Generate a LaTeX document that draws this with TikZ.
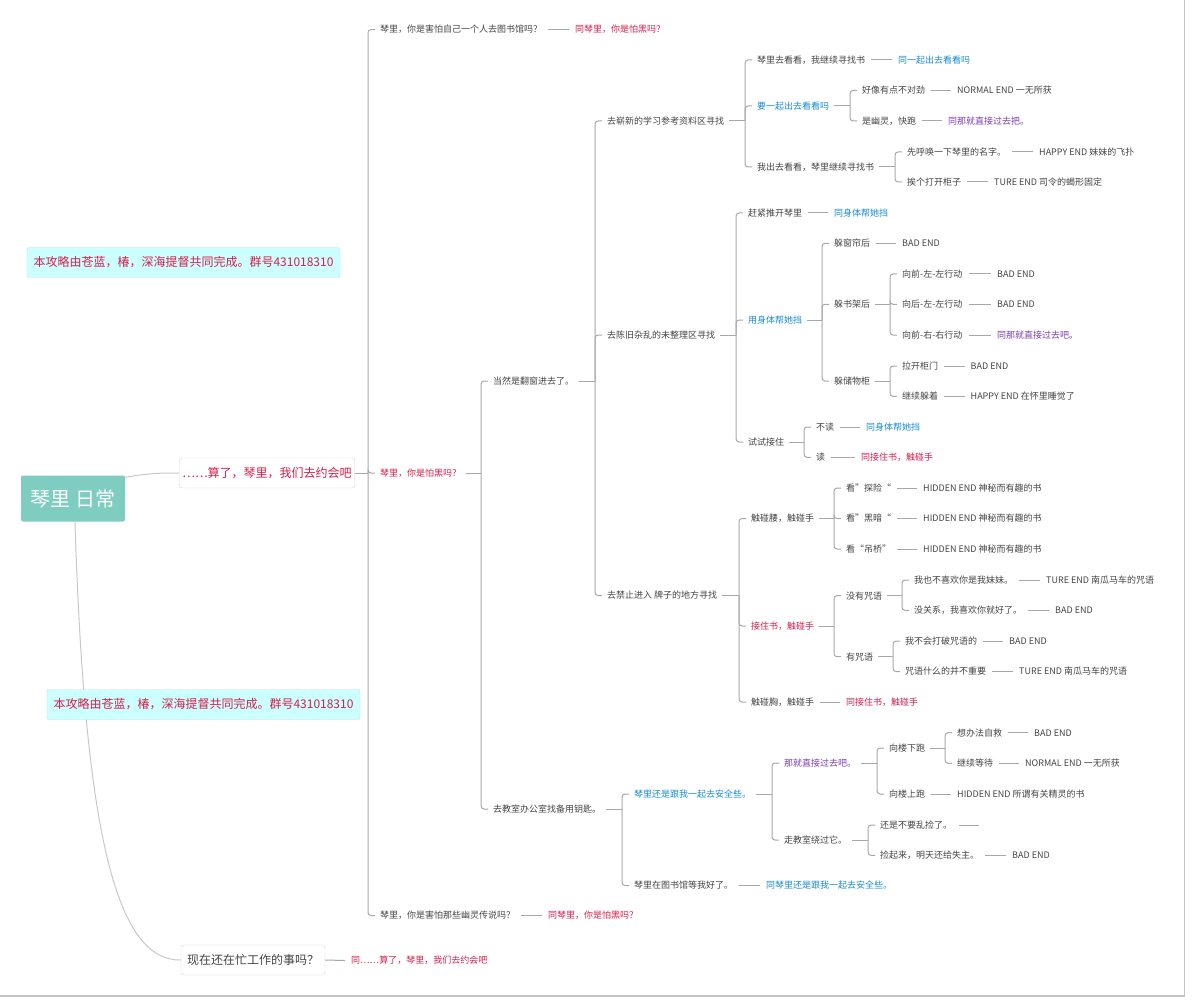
\documentclass[tikz,border=0pt]{standalone}
\usepackage{fontspec}
\setmainfont{Noto Sans CJK SC}
\usepackage{tikz}
\usetikzlibrary{calc}
\definecolor{txtgray}{HTML}{444444}
\definecolor{linkgray}{HTML}{A8A8A8}
\definecolor{curvegray}{HTML}{C8C8C8}
\definecolor{framegray}{HTML}{C4C4C4}
\definecolor{boxgray}{HTML}{D6D6D6}
\definecolor{notegray}{HTML}{C6DEDE}
\definecolor{kred}{HTML}{D81E4A}
\definecolor{kblue}{HTML}{1A8CCF}
\definecolor{kpurple}{HTML}{7A3DB0}
\definecolor{rootteal}{HTML}{7ECDC0}
\definecolor{notecyan}{HTML}{CCFFFF}
\newcommand{\childline}[3][5]{
\draw[link] ($(#2.east)+(#1,0)$) -- ($(#2.east -| #3.west)+(-12,0)$);
\draw[link,rounded corners=3pt] ($(#2.east -| #3.west)+(-12,0)$) |- ($(#3.west)+(-5,0)$);
}
\newcommand{\sameline}[2]{
\draw[link] ($(#1.east)+(6,0)$) -- ($(#2.west)+(-6,0)$);
}
\tikzset{
  txt/.style={anchor=west,inner sep=0pt,text=txtgray,font=\fontsize{9}{11}\selectfont,text height=8pt,text depth=1.2pt},
  redtxt/.style={txt,text=kred},
  bluetxt/.style={txt,text=kblue},
  purptxt/.style={txt,text=kpurple},
  link/.style={draw=linkgray,line width=1pt},
  curve/.style={draw=curvegray,line width=1pt},
  rootbox/.style={fill=rootteal,rounded corners=2pt,text=white,font=\fontsize{20}{24}\selectfont,minimum width=104pt,minimum height=46pt,inner sep=0pt},
  boxnode/.style={draw=boxgray,fill=white,rounded corners=3pt,text=txtgray,font=\fontsize{12}{14}\selectfont,minimum height=30pt,inner xsep=6pt},
  notebox/.style={draw=notegray,fill=notecyan,rounded corners=2pt,text=kred,font=\fontsize{12}{14}\selectfont,minimum width=313pt,minimum height=30pt,inner xsep=6pt}
}
\begin{document}
\begin{tikzpicture}[x=1pt,y=-1pt]
\useasboundingbox (0,0) rectangle (1192,1003);
\draw[framegray,line width=1.5pt] (1184.5,0) -- (1184.5,996) -- (0,996);

% root, first level and notes
\node[rootbox] (root) at (73,498.5) {琴里 日常};
\node[boxnode,text=kred,minimum width=174pt,inner xsep=3pt] (date) at (267,473) {……算了，琴里，我们去约会吧};
\node[boxnode,minimum width=144pt] (work) at (253,960) {现在还在忙工作的事吗？};
\draw[curve] ($(root.north east)+(0,2)$) .. controls (150,473) and (160,473) .. (date.west);
\draw[curve] ($(root.south)+(2,0)$) .. controls (85,850) and (120,961) .. (work.west);
\node[notebox] (note1) at (183.5,262.5) {本攻略由苍蓝，椿，深海提督共同完成。群号431018310};
\node[notebox] (note2) at (203.5,704.5) {本攻略由苍蓝，椿，深海提督共同完成。群号431018310};
\node[redtxt] (works) at (351,960.5) {同……算了，琴里，我们去约会吧};
\draw[link] (work.east) -- ($(works.west)+(-6,0)$);

% date answers
\node[txt] (lib) at (380,29.6) {琴里，你是害怕自己一个人去图书馆吗？};
\node[redtxt] (libs) at (575,29.6) {同琴里，你是怕黑吗？};
\node[redtxt] (dark) at (380,473) {琴里，你是怕黑吗？};
\node[txt] (ghost) at (380,915.5) {琴里，你是害怕那些幽灵传说吗？};
\node[redtxt] (ghosts) at (548,915.5) {同琴里，你是怕黑吗？};
\childline[0]{date}{lib}
\childline[0]{date}{dark}
\childline[0]{date}{ghost}
\sameline{lib}{libs}
\sameline{ghost}{ghosts}

\node[txt] (win) at (493,381) {当然是翻窗进去了。};
\node[txt] (key) at (493,809) {去教室办公室找备用钥匙。};
\childline{dark}{win}
\childline{dark}{key}

\node[txt] (newa) at (607,121) {去崭新的学习参考资料区寻找};
\node[txt] (olda) at (607,335) {去陈旧杂乱的未整理区寻找};
\node[txt] (bana) at (607,595.5) {去禁止进入 牌子的地方寻找};
\childline{win}{newa}
\childline{win}{olda}
\childline{win}{bana}

% new area
\node[txt] (na1) at (757,60) {琴里去看看，我继续寻找书};
\node[bluetxt] (na1s) at (898,60) {同一起出去看看吗};
\node[bluetxt] (na2) at (757,106) {要一起出去看看吗};
\node[txt] (na3) at (757,167) {我出去看看，琴里继续寻找书};
\childline{newa}{na1}
\childline{newa}{na2}
\childline{newa}{na3}
\sameline{na1}{na1s}
\node[txt] (na21) at (862,90.5) {好像有点不对劲};
\node[txt] (na21s) at (957,90.5) {NORMAL END 一无所获};
\node[txt] (na22) at (862,121) {是幽灵，快跑};
\node[purptxt] (na22s) at (948,121) {同那就直接过去把。};
\childline{na2}{na21}
\childline{na2}{na22}
\sameline{na21}{na21s}
\sameline{na22}{na22s}
\node[txt] (na31) at (907,152) {先呼唤一下琴里的名字。};
\node[txt] (na31s) at (1039,152) {HAPPY END 妹妹的飞扑};
\node[txt] (na32) at (907,182) {挨个打开柜子};
\node[txt] (na32s) at (994,182) {TURE END 司令的蝎形固定};
\childline{na3}{na31}
\childline{na3}{na32}
\sameline{na31}{na31s}
\sameline{na32}{na32s}

% old area
\node[txt] (oa1) at (748,213) {赶紧推开琴里};
\node[bluetxt] (oa1s) at (834,213) {同身体帮她挡};
\node[bluetxt] (oa2) at (748,320) {用身体帮她挡};
\node[txt] (oa3) at (748,442) {试试接住};
\childline{olda}{oa1}
\childline{olda}{oa2}
\childline{olda}{oa3}
\sameline{oa1}{oa1s}
\node[txt] (oa21) at (834,243.3) {躲窗帘后};
\node[txt] (oa21s) at (902,243.3) {BAD END};
\node[txt] (oa22) at (834,304.3) {躲书架后};
\node[txt] (oa23) at (834,381) {躲储物柜};
\childline{oa2}{oa21}
\childline{oa2}{oa22}
\childline{oa2}{oa23}
\sameline{oa21}{oa21s}
\node[txt] (oa221) at (902,274) {向前-左-左行动};
\node[txt] (oa221s) at (997,274) {BAD END};
\node[txt] (oa222) at (902,304.3) {向后-左-左行动};
\node[txt] (oa222s) at (997,304.3) {BAD END};
\node[txt] (oa223) at (902,335) {向前-右-右行动};
\node[purptxt] (oa223s) at (997,335) {同那就直接过去吧。};
\childline{oa22}{oa221}
\childline{oa22}{oa222}
\childline{oa22}{oa223}
\sameline{oa221}{oa221s}
\sameline{oa222}{oa222s}
\sameline{oa223}{oa223s}
\node[txt] (oa231) at (902,366) {拉开柜门};
\node[txt] (oa231s) at (970.5,366) {BAD END};
\node[txt] (oa232) at (902,396.3) {继续躲着};
\node[txt] (oa232s) at (970.5,396.3) {HAPPY END 在怀里睡觉了};
\childline{oa23}{oa231}
\childline{oa23}{oa232}
\sameline{oa231}{oa231s}
\sameline{oa232}{oa232s}
\node[txt] (oa31) at (816,427) {不读};
\node[bluetxt] (oa31s) at (866,427) {同身体帮她挡};
\node[txt] (oa32) at (816,457.3) {读};
\node[redtxt] (oa32s) at (861,457.3) {同接住书，触碰手};
\childline{oa3}{oa31}
\childline{oa3}{oa32}
\sameline{oa31}{oa31s}
\sameline{oa32}{oa32s}

% banned area
\node[txt] (ba1) at (751,518.5) {触碰腰，触碰手};
\node[redtxt] (ba2) at (751,626) {接住书，触碰手};
\node[txt] (ba3) at (751,702) {触碰胸，触碰手};
\node[redtxt] (ba3s) at (846,702) {同接住书，触碰手};
\childline{bana}{ba1}
\childline{bana}{ba2}
\childline{bana}{ba3}
\sameline{ba3}{ba3s}
\node[txt] (ba11) at (846,488) {看”探险“};
\node[txt] (ba11s) at (923,488) {HIDDEN END 神秘而有趣的书};
\node[txt] (ba12) at (846,518.5) {看”黑暗“};
\node[txt] (ba12s) at (923,518.5) {HIDDEN END 神秘而有趣的书};
\node[txt] (ba13) at (846,549) {看“吊桥”};
\node[txt] (ba13s) at (923,549) {HIDDEN END 神秘而有趣的书};
\childline{ba1}{ba11}
\childline{ba1}{ba12}
\childline{ba1}{ba13}
\sameline{ba11}{ba11s}
\sameline{ba12}{ba12s}
\sameline{ba13}{ba13s}
\node[txt] (ba21) at (846,595.7) {没有咒语};
\node[txt] (ba22) at (846,656.7) {有咒语};
\childline{ba2}{ba21}
\childline{ba2}{ba22}
\node[txt] (ba211) at (914,580) {我也不喜欢你是我妹妹。};
\node[txt] (ba211s) at (1046,580) {TURE END 南瓜马车的咒语};
\node[txt] (ba212) at (914,610.3) {没关系，我喜欢你就好了。};
\node[txt] (ba212s) at (1055,610.3) {BAD END};
\childline{ba21}{ba211}
\childline{ba21}{ba212}
\sameline{ba211}{ba211s}
\sameline{ba212}{ba212s}
\node[txt] (ba221) at (905,641) {我不会打破咒语的};
\node[txt] (ba221s) at (1009,641) {BAD END};
\node[txt] (ba222) at (905,671.5) {咒语什么的并不重要};
\node[txt] (ba222s) at (1019,671.5) {TURE END 南瓜马车的咒语};
\childline{ba22}{ba221}
\childline{ba22}{ba222}
\sameline{ba221}{ba221s}
\sameline{ba222}{ba222s}

% spare key
\node[bluetxt] (k1) at (634,794) {琴里还是跟我一起去安全些。};
\node[txt] (k2) at (634,885.5) {琴里在图书馆等我好了。};
\node[bluetxt] (k2s) at (766,885.5) {同琴里还是跟我一起去安全些。};
\childline{key}{k1}
\childline{key}{k2}
\sameline{k2}{k2s}
\node[purptxt] (k11) at (784,763) {那就直接过去吧。};
\node[txt] (k12) at (784,840) {走教室绕过它。};
\childline{k1}{k11}
\childline{k1}{k12}
\node[txt] (k111) at (889,748) {向楼下跑};
\node[txt] (k112) at (889,794) {向楼上跑};
\node[txt] (k112s) at (957,794) {HIDDEN END 所谓有关精灵的书};
\childline{k11}{k111}
\childline{k11}{k112}
\sameline{k112}{k112s}
\node[txt] (k1111) at (957,732.7) {想办法自救};
\node[txt] (k1111s) at (1034,732.7) {BAD END};
\node[txt] (k1112) at (957,763.3) {继续等待};
\node[txt] (k1112s) at (1025,763.3) {NORMAL END 一无所获};
\childline{k111}{k1111}
\childline{k111}{k1112}
\sameline{k1111}{k1111s}
\sameline{k1112}{k1112s}
\node[txt] (k121) at (880,825) {还是不要乱捡了。};
\coordinate (k121e) at ($(k121.east)+(27,0)$);
\node[txt] (k122) at (880,855.3) {捡起来，明天还给失主。};
\node[txt] (k122s) at (1012,855.3) {BAD END};
\childline{k12}{k121}
\childline{k12}{k122}
\draw[link] ($(k121.east)+(7,0)$) -- (k121e);
\sameline{k122}{k122s}
\end{tikzpicture}
\end{document}
